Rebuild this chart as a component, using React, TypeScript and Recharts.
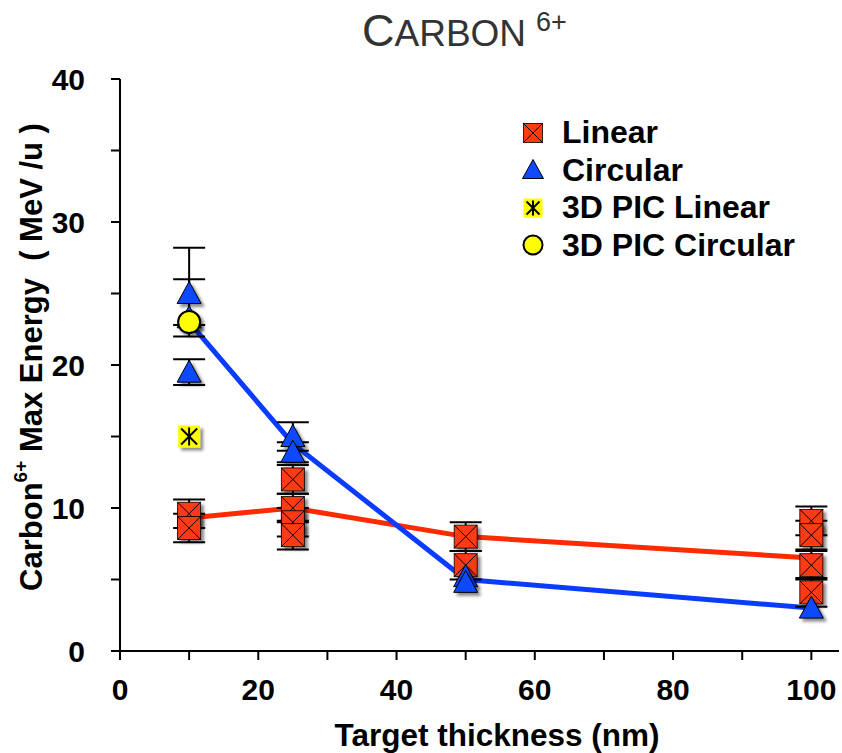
import React from 'react';
import { ComposedChart, Line, Scatter, ErrorBar, XAxis, YAxis, Label } from 'recharts';

// trend lines through the mean values
const trendX = [10, 25, 50, 100];
const linearTrend = [9.3, 10, 8, 6.5];
const circularTrend = [23, 14.5, 5, 3];

// measured points, linear polarisation
const linearX = [10, 10, 25, 25, 25, 25, 50, 50, 100, 100, 100, 100];
const linearY = [9.6, 8.6, 12, 10, 9, 8.1, 8, 6, 9.1, 8.1, 6, 4.1];
const linearErr = [1, 1, 1, 1, 1, 1, 1, 1, 1, 1, 1, 1];

// measured points, circular polarisation
const circularX = [10, 10, 10, 25, 25, 50, 50, 100];
const circularY = [25, 23.3, 19.5, 15, 13.9, 5.2, 4.8, 3];
const circularErrLow = [3, 0.5, 0.9, 1, 0.7, 0, 0, 0];
const circularErrHigh = [3.2, 2.7, 0.9, 1, 0.7, 0, 0, 0];

// 3D PIC simulations
const picLinearX = [10];
const picLinearY = [15];
const picCircularX = [10];
const picCircularY = [23];

const xTicks = [0, 10, 20, 30, 40, 50, 60, 70, 80, 90, 100];
const yTicks = [0, 5, 10, 15, 20, 25, 30, 35, 40];

const RED = '#ff2a00';
const RED_FILL = '#ff3a12';
const BLUE = '#0a3cff';
const BLUE_FILL = '#1049ff';
const YELLOW = '#ffff00';
const FONT = '"Liberation Sans", Arial, sans-serif';

const W = 842;
const H = 753;
const MARGIN = { top: 79, right: 3, bottom: 0, left: 0 };

const linearTrendData = trendX.map((x, i) => ({ x, y: linearTrend[i] }));
const circularTrendData = trendX.map((x, i) => ({ x, y: circularTrend[i] }));
const linearData = linearX.map((x, i) => ({ x, y: linearY[i], err: linearErr[i] }));
const circularData = circularX.map((x, i) => ({
  x,
  y: circularY[i],
  err: [circularErrLow[i], circularErrHigh[i]],
}));
const circularErrData = circularData.filter((d) => d.err[0] + d.err[1] > 0);
const picLinearData = picLinearX.map((x, i) => ({ x, y: picLinearY[i] }));
const picCircularData = picCircularX.map((x, i) => ({ x, y: picCircularY[i] }));

const Nothing = () => <g />;

const CrossSquare = ({ cx, cy, s = 23, shadow = true }: any) => {
  const h = s / 2;
  return (
    <g filter={shadow ? 'url(#mk-shadow)' : undefined}>
      <rect x={cx - h} y={cy - h} width={s} height={s} fill={RED_FILL} stroke="#000" strokeWidth={0.8} />
      <line x1={cx - h} y1={cy - h} x2={cx + h} y2={cy + h} stroke="#000" strokeWidth={1} />
      <line x1={cx + h} y1={cy - h} x2={cx - h} y2={cy + h} stroke="#000" strokeWidth={1} />
    </g>
  );
};

const Triangle = ({ cx, cy, s = 24, shadow = true }: any) => {
  const h = s / 2;
  return (
    <polygon
      filter={shadow ? 'url(#mk-shadow)' : undefined}
      points={`${cx},${cy - h} ${cx - h},${cy + h - 2} ${cx + h},${cy + h - 2}`}
      fill={BLUE_FILL}
      stroke="#000"
      strokeWidth={1}
    />
  );
};

const StarSquare = ({ cx, cy, s = 22, shadow = true }: any) => {
  const h = s / 2;
  const a = h - 3;
  return (
    <g filter={shadow ? 'url(#mk-shadow)' : undefined}>
      <rect x={cx - h} y={cy - h} width={s} height={s} fill={YELLOW} />
      <line x1={cx} y1={cy - a - 1} x2={cx} y2={cy + a + 1} stroke="#000" strokeWidth={2} />
      <line x1={cx - a} y1={cy - a} x2={cx + a} y2={cy + a} stroke="#000" strokeWidth={2} />
      <line x1={cx + a} y1={cy - a} x2={cx - a} y2={cy + a} stroke="#000" strokeWidth={2} />
    </g>
  );
};

const Dot = ({ cx, cy, r = 11, shadow = true }: any) => (
  <circle filter={shadow ? 'url(#mk-shadow)' : undefined} cx={cx} cy={cy} r={r} fill={YELLOW} stroke="#000" strokeWidth={2} />
);

const YTick = ({ x, y, payload }: any) =>
  payload.value % 10 === 0 ? (
    <text x={x} y={y} dy="0.36em" textAnchor="end" fontFamily={FONT} fontWeight="bold" fontSize={30} fill="#000">
      {payload.value}
    </text>
  ) : null;

const XTick = ({ x, y, payload }: any) =>
  payload.value % 20 === 0 ? (
    <text x={x} y={y} dy="0.36em" textAnchor="middle" fontFamily={FONT} fontWeight="bold" fontSize={30} fill="#000">
      {payload.value}
    </text>
  ) : null;

const YLabel = () => (
  <text
    x={31}
    y={357}
    transform="rotate(-90, 31, 357)"
    textAnchor="middle"
    dominantBaseline="central"
    fontFamily={FONT}
    fontWeight="bold"
    fontSize={31}
    fill="#000"
  >
    Carbon
    <tspan dy={-11} fontSize={19}>6+</tspan>
    <tspan dy={11}>{' Max Energy\u00A0\u00A0( MeV /u )'}</tspan>
  </text>
);

const XLabel = () => (
  <text x={497} y={746} textAnchor="middle" fontFamily={FONT} fontWeight="bold" fontSize={31.5} fill="#000">
    Target thickness (nm)
  </text>
);

const legendItems = [
  { name: 'Linear', Marker: CrossSquare, size: 19 },
  { name: 'Circular', Marker: Triangle, size: 21 },
  { name: '3D PIC Linear', Marker: StarSquare, size: 19 },
  { name: '3D PIC Circular', Marker: Dot, size: 9.5 },
];

const ChartLegend = () => (
  <div style={{ position: 'absolute', left: 518, top: 114 }}>
    {legendItems.map(({ name, Marker, size }) => (
      <div key={name} style={{ display: 'flex', alignItems: 'center', height: 37.5 }}>
        <svg width={30} height={30} style={{ marginRight: 14 }}>
          {Marker === Dot ? <Dot cx={15} cy={15} r={size} shadow={false} /> : <Marker cx={15} cy={15} s={size} shadow={false} />}
        </svg>
        <span style={{ fontFamily: FONT, fontWeight: 'bold', fontSize: 32, color: '#000' }}>{name}</span>
      </div>
    ))}
  </div>
);

// same scales on both layers; the top one hides its axes
const axes = (visible: boolean) => [
  <XAxis
    key="x"
    type="number"
    dataKey="x"
    domain={[0, 104]}
    ticks={xTicks}
    interval={0}
    height={102}
    stroke="#000"
    strokeWidth={2}
    tickSize={9}
    tickMargin={29}
    axisLine={visible}
    tickLine={visible}
    tick={visible ? <XTick /> : false}
    label={visible ? <Label content={<XLabel />} /> : undefined}
  />,
  <YAxis
    key="y"
    type="number"
    dataKey="y"
    domain={[0, 40]}
    ticks={yTicks}
    interval={0}
    width={120}
    stroke="#000"
    strokeWidth={2}
    tickSize={9}
    tickMargin={26}
    axisLine={visible}
    tickLine={visible}
    tick={visible ? <YTick /> : false}
    label={visible ? <Label content={<YLabel />} /> : undefined}
  />,
];

export default function App() {
  return (
    <div style={{ position: 'absolute', left: 0, top: 0, width: W, height: H, background: '#fff' }}>
      <svg width={0} height={0} style={{ position: 'absolute' }}>
        <defs>
          <filter id="mk-shadow" x="-50%" y="-50%" width="200%" height="200%">
            <feDropShadow dx={3} dy={3} stdDeviation={1.5} floodColor="#000" floodOpacity={0.45} />
          </filter>
        </defs>
      </svg>
      <div
        style={{
          position: 'absolute',
          left: 362,
          top: 8,
          fontFamily: FONT,
          color: '#333',
          whiteSpace: 'nowrap',
          lineHeight: 1,
        }}
      >
        <span style={{ fontSize: 45 }}>C</span>
        <span style={{ fontSize: 37 }}>ARBON</span>
        <span style={{ fontSize: 27, verticalAlign: 'top', marginLeft: 10, position: 'relative', top: 1 }}>6+</span>
      </div>
      {/* bottom layer: axes, trend lines, error bars */}
      <div style={{ position: 'absolute', left: 0, top: 0 }}>
        <ComposedChart width={W} height={H} margin={MARGIN}>
          {axes(true)}
          <Line data={linearTrendData} dataKey="y" stroke={RED} strokeWidth={5} dot={false} isAnimationActive={false} legendType="none" />
          <Line data={circularTrendData} dataKey="y" stroke={BLUE} strokeWidth={5} dot={false} isAnimationActive={false} legendType="none" />
          <Scatter data={linearData} dataKey="y" shape={<Nothing />} isAnimationActive={false} legendType="none">
            <ErrorBar dataKey="err" direction="y" width={16} stroke="#000" strokeWidth={2} />
          </Scatter>
          <Scatter data={circularErrData} dataKey="y" shape={<Nothing />} isAnimationActive={false} legendType="none">
            <ErrorBar dataKey="err" direction="y" width={16} stroke="#000" strokeWidth={2} />
          </Scatter>
        </ComposedChart>
      </div>
      {/* top layer: markers */}
      <div style={{ position: 'absolute', left: 0, top: 0 }}>
        <ComposedChart width={W} height={H} margin={MARGIN}>
          {axes(false)}
          <Scatter name="Linear" data={linearData} dataKey="y" shape={<CrossSquare />} isAnimationActive={false} />
          <Scatter name="Circular" data={circularData} dataKey="y" shape={<Triangle />} isAnimationActive={false} />
          <Scatter name="3D PIC Linear" data={picLinearData} dataKey="y" shape={<StarSquare />} isAnimationActive={false} />
          <Scatter name="3D PIC Circular" data={picCircularData} dataKey="y" shape={<Dot />} isAnimationActive={false} />
        </ComposedChart>
      </div>
      <ChartLegend />
    </div>
  );
}
